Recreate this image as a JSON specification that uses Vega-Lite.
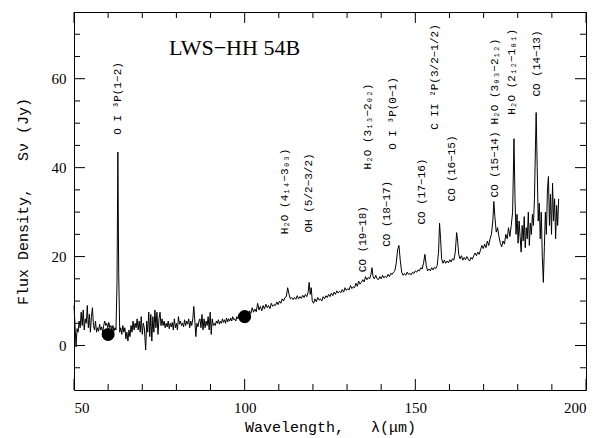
{
  "$schema": "https://vega.github.io/schema/vega-lite/v6.json",
  "width": 512,
  "height": 378,
  "autosize": "none",
  "padding": {"left": 74, "top": 12, "right": 17, "bottom": 48},
  "background": "white",
  "config": {
    "view": {"stroke": "black", "strokeWidth": 1}
  },
  "datasets": {
    "spectrum": [
      {"wl": 50.0, "flux": 9.0}, {"wl": 50.3, "flux": 4.5}, {"wl": 50.6, "flux": -0.3}, {"wl": 50.9, "flux": 3.8},
      {"wl": 51.2, "flux": 3.0}, {"wl": 51.5, "flux": 5.5}, {"wl": 51.8, "flux": 4.0}, {"wl": 52.1, "flux": 7.5},
      {"wl": 52.4, "flux": 4.5}, {"wl": 52.7, "flux": 8.0}, {"wl": 53.0, "flux": 3.5}, {"wl": 53.3, "flux": 6.0},
      {"wl": 53.6, "flux": 5.0}, {"wl": 53.9, "flux": 9.0}, {"wl": 54.2, "flux": 4.0}, {"wl": 54.5, "flux": 7.0},
      {"wl": 54.8, "flux": 3.0}, {"wl": 55.1, "flux": 6.5}, {"wl": 55.4, "flux": 8.5}, {"wl": 55.7, "flux": 4.5},
      {"wl": 56.0, "flux": 3.5}, {"wl": 56.3, "flux": 5.5}, {"wl": 56.6, "flux": 3.0}, {"wl": 56.9, "flux": 4.0},
      {"wl": 57.2, "flux": 3.2}, {"wl": 57.5, "flux": 4.8}, {"wl": 57.8, "flux": 3.5}, {"wl": 58.1, "flux": 4.2},
      {"wl": 58.4, "flux": 3.0}, {"wl": 58.7, "flux": 4.5}, {"wl": 59.0, "flux": 5.5}, {"wl": 59.3, "flux": 4.5},
      {"wl": 59.6, "flux": 5.0}, {"wl": 59.9, "flux": 4.0}, {"wl": 60.2, "flux": 5.2}, {"wl": 60.5, "flux": 4.0},
      {"wl": 60.8, "flux": 4.5}, {"wl": 61.1, "flux": 3.5}, {"wl": 61.4, "flux": 4.5}, {"wl": 61.7, "flux": 3.2},
      {"wl": 62.0, "flux": 4.0}, {"wl": 62.3, "flux": 3.5}, {"wl": 62.6, "flux": 14.0}, {"wl": 62.85, "flux": 43.5},
      {"wl": 63.1, "flux": 16.0}, {"wl": 63.4, "flux": 3.0}, {"wl": 63.7, "flux": 4.0}, {"wl": 64.0, "flux": 2.5},
      {"wl": 64.3, "flux": 4.5}, {"wl": 64.6, "flux": 3.0}, {"wl": 64.9, "flux": 4.0}, {"wl": 65.2, "flux": 1.5},
      {"wl": 65.5, "flux": 3.0}, {"wl": 65.8, "flux": 1.0}, {"wl": 66.1, "flux": 3.5}, {"wl": 66.4, "flux": 2.0},
      {"wl": 66.7, "flux": 4.5}, {"wl": 67.0, "flux": 3.0}, {"wl": 67.3, "flux": 5.5}, {"wl": 67.6, "flux": 3.5},
      {"wl": 67.9, "flux": 5.0}, {"wl": 68.2, "flux": 4.0}, {"wl": 68.5, "flux": 6.0}, {"wl": 68.8, "flux": 3.5},
      {"wl": 69.1, "flux": 5.5}, {"wl": 69.4, "flux": 3.0}, {"wl": 69.7, "flux": 6.5}, {"wl": 70.0, "flux": 2.5},
      {"wl": 70.3, "flux": 5.0}, {"wl": 70.6, "flux": 4.0}, {"wl": 71.0, "flux": -1.0}, {"wl": 71.3, "flux": 5.5},
      {"wl": 71.6, "flux": 3.0}, {"wl": 71.9, "flux": 7.5}, {"wl": 72.2, "flux": 2.0}, {"wl": 72.5, "flux": 7.0},
      {"wl": 72.8, "flux": 1.0}, {"wl": 73.1, "flux": 6.5}, {"wl": 73.4, "flux": 3.0}, {"wl": 73.7, "flux": 8.0},
      {"wl": 74.0, "flux": 4.0}, {"wl": 74.3, "flux": 7.5}, {"wl": 74.6, "flux": 2.5}, {"wl": 74.9, "flux": 6.0},
      {"wl": 75.2, "flux": 7.5}, {"wl": 75.5, "flux": 4.5}, {"wl": 75.8, "flux": 6.0}, {"wl": 76.1, "flux": 4.5},
      {"wl": 76.4, "flux": 5.5}, {"wl": 76.7, "flux": 4.0}, {"wl": 77.0, "flux": 5.0}, {"wl": 77.3, "flux": 4.2},
      {"wl": 77.6, "flux": 5.5}, {"wl": 77.9, "flux": 3.8}, {"wl": 78.2, "flux": 5.0}, {"wl": 78.5, "flux": 4.2},
      {"wl": 78.8, "flux": 5.2}, {"wl": 79.1, "flux": 3.5}, {"wl": 79.4, "flux": 6.0}, {"wl": 79.7, "flux": 4.0},
      {"wl": 80.0, "flux": 5.0}, {"wl": 80.3, "flux": 3.5}, {"wl": 80.6, "flux": 6.5}, {"wl": 80.9, "flux": 4.8},
      {"wl": 81.2, "flux": 5.5}, {"wl": 81.5, "flux": 4.5}, {"wl": 81.8, "flux": 5.0}, {"wl": 82.1, "flux": 4.2},
      {"wl": 82.4, "flux": 5.8}, {"wl": 82.7, "flux": 4.5}, {"wl": 83.0, "flux": 5.5}, {"wl": 83.3, "flux": 4.8},
      {"wl": 83.6, "flux": 6.0}, {"wl": 83.9, "flux": 4.0}, {"wl": 84.2, "flux": 5.5}, {"wl": 84.5, "flux": 4.5},
      {"wl": 84.8, "flux": 6.0}, {"wl": 85.1, "flux": 8.8}, {"wl": 85.4, "flux": 5.5}, {"wl": 85.7, "flux": 2.0},
      {"wl": 86.0, "flux": 5.0}, {"wl": 86.3, "flux": 4.2}, {"wl": 86.6, "flux": 5.5}, {"wl": 86.9, "flux": 6.0},
      {"wl": 87.2, "flux": 4.0}, {"wl": 87.5, "flux": 7.0}, {"wl": 87.8, "flux": 3.5}, {"wl": 88.1, "flux": 6.0},
      {"wl": 88.4, "flux": 4.0}, {"wl": 88.7, "flux": 5.5}, {"wl": 89.0, "flux": 4.5}, {"wl": 89.3, "flux": 6.5},
      {"wl": 89.6, "flux": 3.5}, {"wl": 89.9, "flux": 7.5}, {"wl": 90.2, "flux": 2.5}, {"wl": 90.5, "flux": 6.0},
      {"wl": 90.8, "flux": 4.5}, {"wl": 91.1, "flux": 5.0}, {"wl": 91.4, "flux": 4.5}, {"wl": 91.7, "flux": 5.5},
      {"wl": 92.0, "flux": 5.0}, {"wl": 92.3, "flux": 5.8}, {"wl": 92.6, "flux": 4.8}, {"wl": 92.9, "flux": 5.5},
      {"wl": 93.2, "flux": 5.0}, {"wl": 93.5, "flux": 6.0}, {"wl": 93.8, "flux": 5.2}, {"wl": 94.1, "flux": 5.8},
      {"wl": 94.4, "flux": 5.0}, {"wl": 94.7, "flux": 6.2}, {"wl": 95.0, "flux": 5.3}, {"wl": 95.3, "flux": 6.0},
      {"wl": 95.6, "flux": 5.5}, {"wl": 95.9, "flux": 6.2}, {"wl": 96.2, "flux": 5.5}, {"wl": 96.5, "flux": 6.5},
      {"wl": 96.8, "flux": 5.8}, {"wl": 97.1, "flux": 6.0}, {"wl": 97.4, "flux": 5.5}, {"wl": 97.7, "flux": 6.5},
      {"wl": 98.0, "flux": 6.0}, {"wl": 98.3, "flux": 7.0}, {"wl": 98.6, "flux": 6.2}, {"wl": 98.9, "flux": 6.5},
      {"wl": 99.2, "flux": 6.8}, {"wl": 99.5, "flux": 6.5}, {"wl": 99.8, "flux": 6.8}, {"wl": 100.1, "flux": 7.0},
      {"wl": 100.4, "flux": 6.8}, {"wl": 100.7, "flux": 7.3}, {"wl": 101.0, "flux": 7.0}, {"wl": 101.4, "flux": 7.8},
      {"wl": 101.8, "flux": 7.2}, {"wl": 102.2, "flux": 8.5}, {"wl": 102.6, "flux": 7.5}, {"wl": 103.0, "flux": 8.2},
      {"wl": 103.4, "flux": 7.6}, {"wl": 103.8, "flux": 9.5}, {"wl": 104.2, "flux": 8.0}, {"wl": 104.6, "flux": 8.8},
      {"wl": 105.0, "flux": 7.8}, {"wl": 105.4, "flux": 9.0}, {"wl": 105.8, "flux": 8.2}, {"wl": 106.2, "flux": 9.3},
      {"wl": 106.6, "flux": 8.5}, {"wl": 107.0, "flux": 9.0}, {"wl": 107.4, "flux": 8.3}, {"wl": 107.8, "flux": 9.5},
      {"wl": 108.2, "flux": 8.8}, {"wl": 108.6, "flux": 9.2}, {"wl": 109.0, "flux": 9.0}, {"wl": 109.4, "flux": 9.8},
      {"wl": 109.8, "flux": 9.2}, {"wl": 110.2, "flux": 10.0}, {"wl": 110.6, "flux": 9.5}, {"wl": 111.0, "flux": 10.5},
      {"wl": 111.4, "flux": 10.0}, {"wl": 111.8, "flux": 10.8}, {"wl": 112.2, "flux": 11.0}, {"wl": 112.6, "flux": 13.0},
      {"wl": 113.0, "flux": 11.5}, {"wl": 113.4, "flux": 10.5}, {"wl": 113.8, "flux": 10.8}, {"wl": 114.2, "flux": 10.3},
      {"wl": 114.6, "flux": 10.8}, {"wl": 115.0, "flux": 10.4}, {"wl": 115.4, "flux": 11.2}, {"wl": 115.8, "flux": 10.5},
      {"wl": 116.2, "flux": 11.0}, {"wl": 116.6, "flux": 10.6}, {"wl": 117.0, "flux": 11.3}, {"wl": 117.4, "flux": 10.8},
      {"wl": 117.8, "flux": 11.5}, {"wl": 118.2, "flux": 11.0}, {"wl": 118.6, "flux": 12.0}, {"wl": 118.9, "flux": 14.2},
      {"wl": 119.2, "flux": 11.5}, {"wl": 119.5, "flux": 13.0}, {"wl": 119.8, "flux": 10.0}, {"wl": 120.2, "flux": 9.5},
      {"wl": 120.6, "flux": 10.5}, {"wl": 121.0, "flux": 9.8}, {"wl": 121.4, "flux": 10.8}, {"wl": 121.8, "flux": 10.2},
      {"wl": 122.2, "flux": 10.5}, {"wl": 122.6, "flux": 10.0}, {"wl": 123.0, "flux": 11.0}, {"wl": 123.4, "flux": 10.5},
      {"wl": 123.8, "flux": 11.2}, {"wl": 124.2, "flux": 10.8}, {"wl": 124.6, "flux": 11.5}, {"wl": 125.0, "flux": 11.0},
      {"wl": 125.4, "flux": 11.8}, {"wl": 125.8, "flux": 11.2}, {"wl": 126.2, "flux": 12.0}, {"wl": 126.6, "flux": 11.5},
      {"wl": 127.0, "flux": 12.3}, {"wl": 127.4, "flux": 11.8}, {"wl": 127.8, "flux": 12.2}, {"wl": 128.2, "flux": 11.9},
      {"wl": 128.6, "flux": 12.6}, {"wl": 129.0, "flux": 12.0}, {"wl": 129.4, "flux": 13.0}, {"wl": 129.8, "flux": 12.4},
      {"wl": 130.2, "flux": 12.8}, {"wl": 130.6, "flux": 12.5}, {"wl": 131.0, "flux": 13.5}, {"wl": 131.4, "flux": 12.8},
      {"wl": 131.8, "flux": 13.2}, {"wl": 132.2, "flux": 13.0}, {"wl": 132.6, "flux": 14.0}, {"wl": 133.0, "flux": 13.3},
      {"wl": 133.4, "flux": 14.5}, {"wl": 133.8, "flux": 13.8}, {"wl": 134.2, "flux": 14.2}, {"wl": 134.6, "flux": 14.8},
      {"wl": 135.0, "flux": 14.3}, {"wl": 135.4, "flux": 15.5}, {"wl": 135.8, "flux": 14.8}, {"wl": 136.2, "flux": 15.3},
      {"wl": 136.6, "flux": 15.0}, {"wl": 137.0, "flux": 16.0}, {"wl": 137.3, "flux": 17.5}, {"wl": 137.6, "flux": 15.5},
      {"wl": 138.0, "flux": 15.0}, {"wl": 138.4, "flux": 15.8}, {"wl": 138.8, "flux": 15.0}, {"wl": 139.2, "flux": 14.8},
      {"wl": 139.6, "flux": 15.5}, {"wl": 140.0, "flux": 15.0}, {"wl": 140.4, "flux": 15.8}, {"wl": 140.8, "flux": 15.2},
      {"wl": 141.2, "flux": 15.6}, {"wl": 141.6, "flux": 15.3}, {"wl": 142.0, "flux": 16.0}, {"wl": 142.4, "flux": 15.5},
      {"wl": 142.8, "flux": 16.2}, {"wl": 143.2, "flux": 16.0}, {"wl": 143.6, "flux": 16.5}, {"wl": 144.0, "flux": 16.8},
      {"wl": 144.4, "flux": 18.5}, {"wl": 144.8, "flux": 21.5}, {"wl": 145.2, "flux": 22.5}, {"wl": 145.6, "flux": 19.0},
      {"wl": 146.0, "flux": 16.5}, {"wl": 146.4, "flux": 15.8}, {"wl": 146.8, "flux": 16.2}, {"wl": 147.2, "flux": 15.8},
      {"wl": 147.6, "flux": 16.5}, {"wl": 148.0, "flux": 16.0}, {"wl": 148.4, "flux": 16.2}, {"wl": 148.8, "flux": 15.9},
      {"wl": 149.2, "flux": 16.5}, {"wl": 149.6, "flux": 16.2}, {"wl": 150.0, "flux": 16.8}, {"wl": 150.4, "flux": 16.5},
      {"wl": 150.8, "flux": 17.0}, {"wl": 151.2, "flux": 16.8}, {"wl": 151.6, "flux": 17.5}, {"wl": 152.0, "flux": 17.2},
      {"wl": 152.4, "flux": 18.5}, {"wl": 152.8, "flux": 20.5}, {"wl": 153.2, "flux": 18.0}, {"wl": 153.6, "flux": 16.8},
      {"wl": 154.0, "flux": 17.2}, {"wl": 154.4, "flux": 16.8}, {"wl": 154.8, "flux": 17.5}, {"wl": 155.2, "flux": 17.0},
      {"wl": 155.6, "flux": 17.6}, {"wl": 156.0, "flux": 17.3}, {"wl": 156.4, "flux": 18.0}, {"wl": 156.8, "flux": 21.0},
      {"wl": 157.1, "flux": 27.5}, {"wl": 157.4, "flux": 24.0}, {"wl": 157.7, "flux": 19.5}, {"wl": 158.1, "flux": 18.5},
      {"wl": 158.5, "flux": 19.2}, {"wl": 158.9, "flux": 18.5}, {"wl": 159.3, "flux": 19.0}, {"wl": 159.7, "flux": 18.6},
      {"wl": 160.1, "flux": 19.3}, {"wl": 160.5, "flux": 18.8}, {"wl": 160.9, "flux": 19.5}, {"wl": 161.3, "flux": 19.2},
      {"wl": 161.7, "flux": 21.0}, {"wl": 162.1, "flux": 25.4}, {"wl": 162.4, "flux": 23.5}, {"wl": 162.7, "flux": 20.5},
      {"wl": 163.1, "flux": 19.5}, {"wl": 163.5, "flux": 20.2}, {"wl": 163.9, "flux": 19.2}, {"wl": 164.3, "flux": 19.8},
      {"wl": 164.7, "flux": 19.3}, {"wl": 165.1, "flux": 20.0}, {"wl": 165.5, "flux": 19.4}, {"wl": 165.9, "flux": 19.0},
      {"wl": 166.3, "flux": 19.8}, {"wl": 166.7, "flux": 19.4}, {"wl": 167.1, "flux": 20.2}, {"wl": 167.5, "flux": 20.8},
      {"wl": 167.9, "flux": 20.2}, {"wl": 168.3, "flux": 21.0}, {"wl": 168.7, "flux": 20.5}, {"wl": 169.1, "flux": 21.5},
      {"wl": 169.5, "flux": 22.5}, {"wl": 169.9, "flux": 21.8}, {"wl": 170.3, "flux": 22.8}, {"wl": 170.7, "flux": 22.0},
      {"wl": 171.1, "flux": 23.5}, {"wl": 171.5, "flux": 22.5}, {"wl": 171.9, "flux": 24.0}, {"wl": 172.3, "flux": 25.0},
      {"wl": 172.7, "flux": 28.0}, {"wl": 173.0, "flux": 32.4}, {"wl": 173.3, "flux": 29.0}, {"wl": 173.7, "flux": 25.5},
      {"wl": 174.1, "flux": 26.5}, {"wl": 174.5, "flux": 24.5}, {"wl": 174.9, "flux": 23.0}, {"wl": 175.3, "flux": 22.2},
      {"wl": 175.7, "flux": 23.5}, {"wl": 176.1, "flux": 22.8}, {"wl": 176.5, "flux": 25.0}, {"wl": 176.9, "flux": 24.0},
      {"wl": 177.3, "flux": 26.5}, {"wl": 177.7, "flux": 24.5}, {"wl": 178.1, "flux": 27.0}, {"wl": 178.5, "flux": 30.0},
      {"wl": 178.9, "flux": 46.5}, {"wl": 179.2, "flux": 33.0}, {"wl": 179.5, "flux": 25.0}, {"wl": 179.8, "flux": 29.5},
      {"wl": 180.1, "flux": 23.0}, {"wl": 180.4, "flux": 28.0}, {"wl": 180.7, "flux": 24.5}, {"wl": 181.0, "flux": 21.0},
      {"wl": 181.3, "flux": 27.0}, {"wl": 181.6, "flux": 23.5}, {"wl": 181.9, "flux": 29.0}, {"wl": 182.2, "flux": 22.0},
      {"wl": 182.5, "flux": 26.5}, {"wl": 182.8, "flux": 24.0}, {"wl": 183.1, "flux": 30.0}, {"wl": 183.4, "flux": 22.5},
      {"wl": 183.7, "flux": 27.5}, {"wl": 184.0, "flux": 25.0}, {"wl": 184.3, "flux": 29.5}, {"wl": 184.6, "flux": 27.0},
      {"wl": 184.9, "flux": 33.0}, {"wl": 185.2, "flux": 45.0}, {"wl": 185.4, "flux": 52.4}, {"wl": 185.7, "flux": 40.0},
      {"wl": 186.0, "flux": 28.0}, {"wl": 186.3, "flux": 32.0}, {"wl": 186.6, "flux": 24.0}, {"wl": 186.9, "flux": 30.0},
      {"wl": 187.2, "flux": 20.0}, {"wl": 187.5, "flux": 14.2}, {"wl": 187.8, "flux": 22.0}, {"wl": 188.1, "flux": 30.0},
      {"wl": 188.4, "flux": 25.0}, {"wl": 188.7, "flux": 35.0}, {"wl": 189.0, "flux": 38.0}, {"wl": 189.3, "flux": 27.0},
      {"wl": 189.6, "flux": 34.0}, {"wl": 189.9, "flux": 25.0}, {"wl": 190.2, "flux": 36.5}, {"wl": 190.5, "flux": 28.0},
      {"wl": 190.8, "flux": 33.0}, {"wl": 191.1, "flux": 24.0}, {"wl": 191.4, "flux": 31.5}, {"wl": 191.7, "flux": 27.0},
      {"wl": 192.0, "flux": 33.0}
    ],
    "photometry": [
      {"wl": 60, "flux": 2.5},
      {"wl": 100, "flux": 6.5}
    ],
    "lines": [
      {"wl": 62.9, "flux": 47.4, "label": "O I ³P(1−2)"},
      {"wl": 111.7, "flux": 25.0, "label": "H₂O (4₁₄−3₀₃)"},
      {"wl": 118.9, "flux": 25.4, "label": "OH (5/2−3/2)"},
      {"wl": 134.8, "flux": 16.5, "label": "CO (19−18)"},
      {"wl": 141.7, "flux": 22.2, "label": "CO (18−17)"},
      {"wl": 136.1, "flux": 39.6, "label": "H₂O (3₁₃−2₀₂)"},
      {"wl": 143.5, "flux": 44.0, "label": "O I ³P(0−1)"},
      {"wl": 152.0, "flux": 27.2, "label": "CO (17−16)"},
      {"wl": 155.8, "flux": 48.5, "label": "C II ²P(3/2−1/2)"},
      {"wl": 160.7, "flux": 32.4, "label": "CO (16−15)"},
      {"wl": 173.4, "flux": 33.3, "label": "CO (15−14)"},
      {"wl": 173.4, "flux": 49.7, "label": "H₂O (3₀₃−2₁₂)"},
      {"wl": 178.3, "flux": 51.9, "label": "H₂O (2₁₂−1₀₁)"},
      {"wl": 185.7, "flux": 56.0, "label": "CO (14−13)"}
    ],
    "titletext": [
      {"wl": 77.8, "flux": 67.0, "label": "LWS−HH 54B"}
    ],
    "xmajor": [{"t": 50}, {"t": 100}, {"t": 150}, {"t": 200}],
    "xminor": [{"t": 60}, {"t": 70}, {"t": 80}, {"t": 90}, {"t": 110}, {"t": 120}, {"t": 130}, {"t": 140}, {"t": 160}, {"t": 170}, {"t": 180}, {"t": 190}],
    "ymajor": [{"t": 0}, {"t": 20}, {"t": 40}, {"t": 60}],
    "yminor": [{"t": -5}, {"t": 5}, {"t": 10}, {"t": 15}, {"t": 25}, {"t": 30}, {"t": 35}, {"t": 45}, {"t": 50}, {"t": 55}, {"t": 65}, {"t": 70}]
  },
  "layer": [
    {
      "data": {"name": "xmajor"},
      "mark": {"type": "rule", "color": "black", "strokeWidth": 1},
      "encoding": {
        "x": {
          "field": "t", "type": "quantitative",
          "scale": {"domain": [50, 200], "nice": false, "zero": false},
          "axis": {
            "orient": "bottom", "values": [50, 100, 150, 200], "ticks": false, "domain": false, "grid": false,
            "labelPadding": 10, "labelFont": "Liberation Serif", "labelFontSize": 15, "labelColor": "black",
            "title": "Wavelength,\u00a0\u00a0\u00a0λ(μm)", "titleFont": "Liberation Mono", "titleFontSize": 15,
            "titleFontWeight": "normal", "titleColor": "black", "titlePadding": 4
          }
        },
        "y": {
          "datum": -10, "type": "quantitative",
          "scale": {"domain": [-10, 75], "nice": false, "zero": false},
          "axis": {
            "orient": "left", "values": [0, 20, 40, 60], "ticks": false, "domain": false, "grid": false,
            "labelPadding": 8, "labelFont": "Liberation Serif", "labelFontSize": 15, "labelColor": "black",
            "title": "Flux Density,\u00a0\u00a0\u00a0Sν (Jy)", "titleFont": "Liberation Mono", "titleFontSize": 15,
            "titleFontWeight": "normal", "titleColor": "black", "titlePadding": 21
          }
        },
        "y2": {"datum": -7.53}
      }
    },
    {
      "data": {"name": "xmajor"},
      "mark": {"type": "rule", "color": "black", "strokeWidth": 1},
      "encoding": {
        "x": {"field": "t", "type": "quantitative"},
        "y": {"datum": 75, "type": "quantitative"},
        "y2": {"datum": 72.53}
      }
    },
    {
      "data": {"name": "xminor"},
      "mark": {"type": "rule", "color": "black", "strokeWidth": 1},
      "encoding": {
        "x": {"field": "t", "type": "quantitative"},
        "y": {"datum": -10, "type": "quantitative"},
        "y2": {"datum": -8.65}
      }
    },
    {
      "data": {"name": "xminor"},
      "mark": {"type": "rule", "color": "black", "strokeWidth": 1},
      "encoding": {
        "x": {"field": "t", "type": "quantitative"},
        "y": {"datum": 75, "type": "quantitative"},
        "y2": {"datum": 73.65}
      }
    },
    {
      "data": {"name": "ymajor"},
      "mark": {"type": "rule", "color": "black", "strokeWidth": 1},
      "encoding": {
        "y": {"field": "t", "type": "quantitative"},
        "x": {"datum": 50, "type": "quantitative"},
        "x2": {"datum": 53.22}
      }
    },
    {
      "data": {"name": "ymajor"},
      "mark": {"type": "rule", "color": "black", "strokeWidth": 1},
      "encoding": {
        "y": {"field": "t", "type": "quantitative"},
        "x": {"datum": 200, "type": "quantitative"},
        "x2": {"datum": 196.78}
      }
    },
    {
      "data": {"name": "yminor"},
      "mark": {"type": "rule", "color": "black", "strokeWidth": 1},
      "encoding": {
        "y": {"field": "t", "type": "quantitative"},
        "x": {"datum": 50, "type": "quantitative"},
        "x2": {"datum": 51.76}
      }
    },
    {
      "data": {"name": "yminor"},
      "mark": {"type": "rule", "color": "black", "strokeWidth": 1},
      "encoding": {
        "y": {"field": "t", "type": "quantitative"},
        "x": {"datum": 200, "type": "quantitative"},
        "x2": {"datum": 198.24}
      }
    },
    {
      "data": {"name": "spectrum"},
      "mark": {"type": "line", "color": "black", "strokeWidth": 1, "interpolate": "linear"},
      "encoding": {
        "x": {"field": "wl", "type": "quantitative"},
        "y": {"field": "flux", "type": "quantitative"},
        "order": {"field": "wl", "type": "quantitative"}
      }
    },
    {
      "data": {"name": "photometry"},
      "mark": {"type": "point", "filled": true, "color": "black", "size": 170, "opacity": 1},
      "encoding": {
        "x": {"field": "wl", "type": "quantitative"},
        "y": {"field": "flux", "type": "quantitative"}
      }
    },
    {
      "data": {"name": "lines"},
      "mark": {"type": "text", "angle": 270, "align": "left", "baseline": "middle", "font": "Liberation Mono", "fontSize": 11, "color": "black"},
      "encoding": {
        "x": {"field": "wl", "type": "quantitative"},
        "y": {"field": "flux", "type": "quantitative"},
        "text": {"field": "label", "type": "nominal"}
      }
    },
    {
      "data": {"name": "titletext"},
      "mark": {"type": "text", "align": "left", "baseline": "middle", "font": "Liberation Serif", "fontSize": 22, "color": "black"},
      "encoding": {
        "x": {"field": "wl", "type": "quantitative"},
        "y": {"field": "flux", "type": "quantitative"},
        "text": {"field": "label", "type": "nominal"}
      }
    }
  ]
}
